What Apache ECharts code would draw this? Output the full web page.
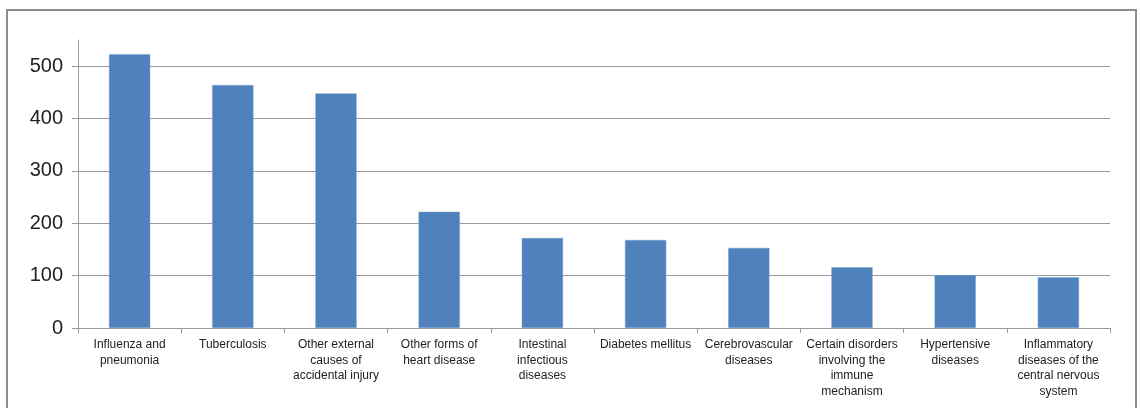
<!DOCTYPE html>
<html>
<head>
<meta charset="utf-8">
<script src="https://cdn.jsdelivr.net/npm/echarts@6/dist/echarts.min.js"></script>
<style>
  html, body { margin: 0; padding: 0; background: #fff; }
  #chart { position: absolute; left: 0; top: 0; width: 1141px; height: 408px; }
  #frame { position: absolute; left: 6px; top: 9px; width: 1127px; height: 500px;
           border: 2px solid #8c8c8c; pointer-events: none; }
</style>
</head>
<body>
<div id="chart"></div>
<div id="frame"></div>
<script>
const categories = [
  'Influenza and\npneumonia',
  'Tuberculosis',
  'Other external\ncauses of\naccidental injury',
  'Other forms of\nheart disease',
  'Intestinal\ninfectious\ndiseases',
  'Diabetes mellitus',
  'Cerebrovascular\ndiseases',
  'Certain disorders\ninvolving the\nimmune\nmechanism',
  'Hypertensive\ndiseases',
  'Inflammatory\ndiseases of the\ncentral nervous\nsystem'
];
const values = [523, 464, 448, 222, 172, 168, 153, 116, 101, 97];
const yMin = 0;
const yMax = 550;
const yStep = 100;

const chart = echarts.init(document.getElementById('chart'), null, { renderer: 'canvas' });
const gridColor = '#9a9a9a';
chart.setOption({
  animation: false,
  backgroundColor: '#ffffff',
  grid: { left: 78, right: 31, top: 40, bottom: 80, containLabel: false },
  xAxis: {
    type: 'category',
    data: categories,
    boundaryGap: true,
    axisLine: { show: true, lineStyle: { color: gridColor, width: 1 } },
    axisTick: { show: true, length: 5, alignWithLabel: false, lineStyle: { color: gridColor } },
    axisLabel: {
      interval: 0,
      margin: 9,
      color: '#222',
      fontFamily: 'Liberation Sans, Arial, sans-serif',
      fontSize: 12,
      lineHeight: 15.5,
      align: 'center'
    },
    splitLine: { show: false }
  },
  yAxis: {
    type: 'value',
    min: yMin,
    max: yMax,
    interval: yStep,
    axisLine: { show: true, lineStyle: { color: gridColor, width: 1 } },
    axisTick: { show: true, length: 6, lineStyle: { color: gridColor } },
    axisLabel: {
      showMaxLabel: false,
      margin: 15,
      color: '#222',
      fontFamily: 'Liberation Sans, Arial, sans-serif',
      fontSize: 20
    },
    splitLine: {
      show: true,
      lineStyle: { color: [gridColor, gridColor, gridColor, gridColor, gridColor, gridColor, 'rgba(0,0,0,0)'], width: 1 }
    }
  },
  series: [{
    type: 'bar',
    data: values,
    barWidth: '40%',
    itemStyle: { color: '#4f81bd', borderColor: '#7fa3cf', borderWidth: 0.5 }
  }]
});
</script>
</body>
</html>
